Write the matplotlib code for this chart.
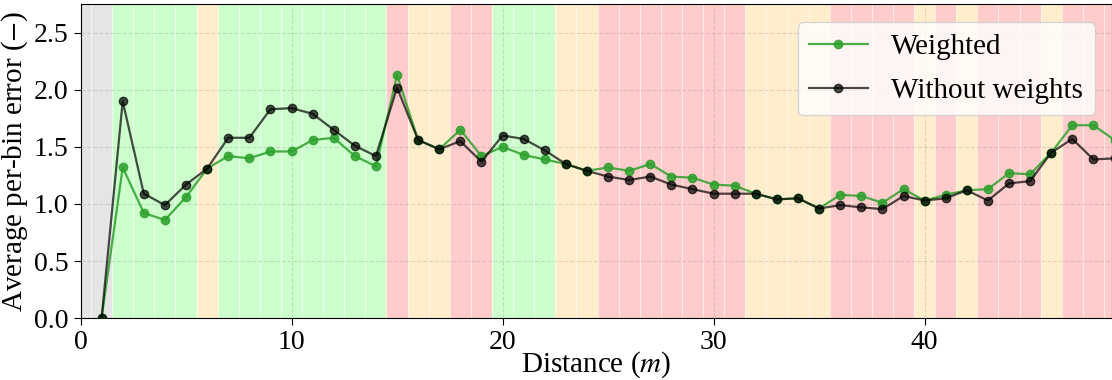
import matplotlib
matplotlib.use('Agg')
import matplotlib.pyplot as plt

plt.rcParams['font.family'] = ['Liberation Serif', 'DejaVu Serif']
plt.rcParams['mathtext.fontset'] = 'stix'

distance = list(range(1, 50))
weighted = [0.0, 1.32, 0.92, 0.86, 1.06, 1.31, 1.42, 1.40, 1.46, 1.46,
            1.56, 1.58, 1.42, 1.33, 2.13, 1.56, 1.48, 1.65, 1.42, 1.50,
            1.43, 1.39, 1.35, 1.29, 1.32, 1.29, 1.35, 1.24, 1.23, 1.17,
            1.16, 1.09, 1.04, 1.05, 0.96, 1.08, 1.07, 1.01, 1.13, 1.03,
            1.08, 1.12, 1.13, 1.27, 1.26, 1.45, 1.69, 1.69, 1.56]
unweighted = [0.0, 1.90, 1.09, 0.99, 1.17, 1.31, 1.58, 1.58, 1.83, 1.84,
              1.79, 1.65, 1.51, 1.42, 2.02, 1.56, 1.48, 1.55, 1.37, 1.60,
              1.57, 1.47, 1.35, 1.29, 1.24, 1.21, 1.24, 1.17, 1.13, 1.09,
              1.09, 1.09, 1.04, 1.05, 0.96, 0.99, 0.97, 0.955, 1.07, 1.03,
              1.05, 1.12, 1.03, 1.18, 1.20, 1.45, 1.57, 1.39, 1.40]

# bin class per distance bin (0..49): n = none, g = good, o = medium, r = bad
bin_class = ('nn' + 'gggg' + 'o' + 'gggggggg' + 'r' + 'oo' + 'rr' + 'ggg' + 'oo'
             + 'rrrrrrr' + 'oooo' + 'rrrr' + 'o' + 'r' + 'o' + 'rrr' + 'o' + 'rrr')
class_color = {'n': 'grey', 'g': 'lime', 'o': 'orange', 'r': 'red'}

fig = plt.figure(figsize=(11.12, 3.8), dpi=100)
ax = fig.add_axes([0.0724, 0.163, 0.9276, 0.8257])

for i, c in enumerate(bin_class):
    ax.axvspan(i - 0.5, i + 0.5, color=class_color[c], alpha=0.2, lw=0, zorder=0)
    ax.axvline(i + 0.5, color='white', lw=0.7, alpha=0.6, zorder=0.5)

ax.plot(distance, weighted, '-o', color='tab:green', alpha=0.85, lw=1.6, ms=6,
        label='Weighted', zorder=3)
ax.plot(distance, unweighted, '-o', color='black', alpha=0.7, lw=1.6, ms=6,
        label='Without weights', zorder=4)

ax.set_xlim(0, 48.88)
ax.set_ylim(0, 2.75)
ax.set_xticks([0, 10, 20, 30, 40])
ax.set_yticks([0.0, 0.5, 1.0, 1.5, 2.0, 2.5])
ax.grid(True, linestyle='--', color='grey', alpha=0.25, lw=0.8, zorder=1)
ax.tick_params(labelsize=20, length=5)
ax.set_xlabel('Distance ($m$)', fontsize=21, labelpad=-4)
ax.set_ylabel('Average per-bin error ($-$)', fontsize=21, labelpad=3)
ax.legend(loc='upper right', fontsize=21, framealpha=0.8, borderaxespad=0.6,
          labelspacing=0.6)

fig.savefig('out.png', dpi=100)
